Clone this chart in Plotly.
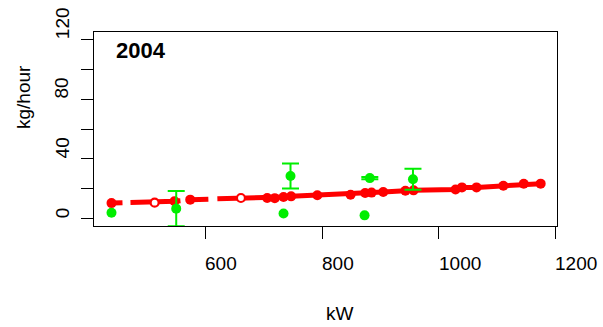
import plotly.graph_objects as go

# Fitted emission rate along engine power (red), with imputed points drawn open
fit_kw = [439, 513, 547, 574, 661, 706, 719, 734, 747, 792, 849, 874, 885,
          905, 943, 957, 1029, 1040, 1065, 1111, 1146, 1175]
fit_rate = [10.5, 10.8, 11.7, 12.8, 13.9, 13.9, 13.8, 14.6, 15.0, 15.7, 16.1,
            17.2, 17.5, 17.9, 18.8, 19.0, 19.6, 21.0, 21.0, 22.1, 23.4, 23.5]
fit_open = [False, True, False, False, True] + [False] * 17

# Measured rates (green) with their uncertainty where available
obs_kw = [439, 550, 734, 746, 873, 882, 956]
obs_rate = [4.1, 6.8, 3.5, 28.6, 2.3, 27.2, 26.4]
obs_err = [None, 11.8, None, 8.4, None, 0.8, 7.0]

x_ticks = [600, 800, 1000, 1200]
y_ticks = [0, 20, 40, 60, 80, 100, 120]
y_labels = [0, 40, 80, 120]
panel_title = "2004"

FONT = "Liberation Sans, Arial, sans-serif"
RED = "#ff0000"
GREEN = "#00ee00"

fig = go.Figure()

fig.add_trace(go.Scatter(
    x=fit_kw, y=fit_rate, mode="lines",
    line=dict(color=RED, width=5, dash="11px,8px,50px,6px,22px,9px,600px"),
    hoverinfo="skip", showlegend=False))

fk = [k for k, o in zip(fit_kw, fit_open) if not o]
fr = [r for r, o in zip(fit_rate, fit_open) if not o]
fig.add_trace(go.Scatter(
    x=fk, y=fr, mode="markers",
    marker=dict(color=RED, size=10, line=dict(width=0)),
    showlegend=False))

ok = [k for k, o in zip(fit_kw, fit_open) if o]
orr = [r for r, o in zip(fit_rate, fit_open) if o]
fig.add_trace(go.Scatter(
    x=ok, y=orr, mode="markers",
    marker=dict(color="white", size=8, line=dict(width=2.2, color=RED)),
    showlegend=False))

# measured points: those with an uncertainty get error bars, the rest plain
with_err = [i for i, e in enumerate(obs_err) if e is not None]
no_err = [i for i, e in enumerate(obs_err) if e is None]

fig.add_trace(go.Scatter(
    x=[obs_kw[i] for i in no_err], y=[obs_rate[i] for i in no_err],
    mode="markers", marker=dict(color=GREEN, size=10, line=dict(width=0)),
    cliponaxis=False, showlegend=False))
fig.add_trace(go.Scatter(
    x=[obs_kw[i] for i in with_err], y=[obs_rate[i] for i in with_err],
    mode="markers", marker=dict(color=GREEN, size=10, line=dict(width=0)),
    error_y=dict(type="data", array=[obs_err[i] for i in with_err],
                 visible=True, color=GREEN, thickness=2, width=8.5),
    cliponaxis=False, showlegend=False))

axis_common = dict(
    showline=True, mirror=True, linecolor="black", linewidth=1.4,
    ticks="outside", ticklen=12, tickwidth=1.4, tickcolor="black",
    showgrid=False, zeroline=False, showticklabels=False)

fig.update_xaxes(range=[409, 1203], tickmode="array", tickvals=x_ticks,
                 **axis_common)
fig.update_yaxes(range=[-4.8, 124.8], tickmode="array", tickvals=y_ticks,
                 **axis_common)

annotations = []
for v in x_ticks:
    annotations.append(dict(
        x=v, xref="x", y=0, yref="paper", text=str(v), showarrow=False,
        xanchor="left", yanchor="middle", xshift=-2, yshift=-37,
        font=dict(family=FONT, size=19, color="black")))
for v in y_labels:
    annotations.append(dict(
        x=0, xref="paper", y=v, yref="y", text=str(v), showarrow=False,
        textangle=-90, xanchor="center", yanchor="bottom",
        xshift=-32, yshift=-2,
        font=dict(family=FONT, size=19, color="black")))
annotations.append(dict(
    x=0.5, xref="paper", y=0, yref="paper", text="kW", showarrow=False,
    xanchor="left", yanchor="middle", xshift=-2, yshift=-87,
    font=dict(family=FONT, size=19, color="black")))
annotations.append(dict(
    x=0, xref="paper", y=0.5, yref="paper", text="kg/hour", showarrow=False,
    textangle=-90, xanchor="center", yanchor="bottom", xshift=-71, yshift=-2,
    font=dict(family=FONT, size=19, color="black")))
annotations.append(dict(
    x=0, xref="paper", y=1, yref="paper", text="<b>" + panel_title + "</b>",
    showarrow=False, xanchor="left", yanchor="middle", xshift=20, yshift=-18,
    font=dict(family=FONT, size=22, color="black")))

fig.update_layout(
    width=603, height=327,
    margin=dict(l=94, r=46, t=32, b=101),
    paper_bgcolor="white", plot_bgcolor="white",
    annotations=annotations, showlegend=False)

fig.write_html("out.html")
